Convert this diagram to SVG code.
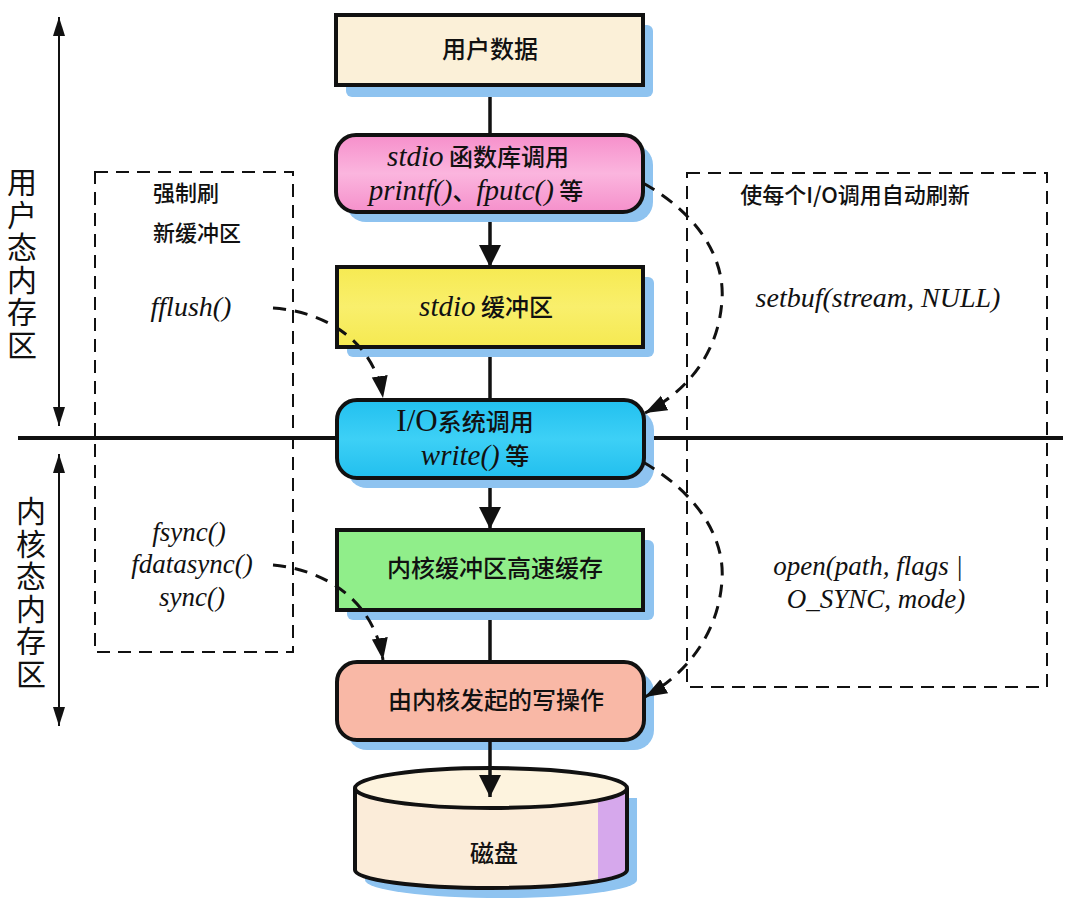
<svg xmlns="http://www.w3.org/2000/svg" width="1080" height="907" viewBox="0 0 1080 907">
<style>
.cjk{font-family:"Noto Sans CJK SC","Noto Sans",sans-serif;fill:#111}
.b{font-weight:500}
.it{font-family:"Liberation Serif","DejaVu Serif",serif;font-style:italic;fill:#111}
.rm{font-family:"Liberation Serif","DejaVu Serif",serif;fill:#111}
.vt{writing-mode:vertical-rl;letter-spacing:2.5px}
.box{stroke:#111;stroke-width:4}
.shadow{fill:#8ec3f0}
.dbox{fill:none;stroke:#111;stroke-width:2;stroke-dasharray:13 8}
.dcurve{fill:none;stroke:#111;stroke-width:3;stroke-dasharray:13 9}
.solid{fill:none;stroke:#111;stroke-width:3.5}
.thin{fill:none;stroke:#111;stroke-width:2}
</style>
<defs>
<marker id="ah" markerUnits="userSpaceOnUse" markerWidth="24" markerHeight="24" viewBox="0 0 24 24" refX="22" refY="12" orient="auto">
<path d="M0,1 L22,12 L0,23 Z" fill="#111"/>
</marker>
<marker id="ahc" markerUnits="userSpaceOnUse" markerWidth="24" markerHeight="18" viewBox="0 0 24 18" refX="22" refY="9" orient="auto">
<path d="M0,1 L22,9 L0,17 Z" fill="#111"/>
</marker>
<marker id="aht" markerUnits="userSpaceOnUse" markerWidth="20" markerHeight="14" viewBox="0 0 20 14" refX="19" refY="7" orient="auto-start-reverse">
<path d="M0,1 L19,7 L0,13 Z" fill="#111"/>
</marker>
<linearGradient id="gPink" x1="0" y1="0" x2="0" y2="1"><stop offset="0" stop-color="#f68fcb"/><stop offset="0.5" stop-color="#fbb5de"/><stop offset="1" stop-color="#f590cb"/></linearGradient>
<linearGradient id="gCyan" x1="0" y1="0" x2="0" y2="1"><stop offset="0" stop-color="#22c0ef"/><stop offset="0.5" stop-color="#3dd0f6"/><stop offset="1" stop-color="#22bfee"/></linearGradient>
<linearGradient id="gYel" x1="0" y1="0" x2="0" y2="1"><stop offset="0" stop-color="#f6ea52"/><stop offset="0.5" stop-color="#f9ef6c"/><stop offset="1" stop-color="#f5e951"/></linearGradient>
<clipPath id="diskClip"><path d="M355,788 L355,870 A136,18 0 0 0 627,870 L627,788 Z"/></clipPath>
</defs>
<rect width="1080" height="907" fill="#ffffff"/>

<g id="divider">
<line x1="18" y1="438" x2="1063" y2="438" stroke="#111" stroke-width="4"/>
</g>

<g id="user-space-label">
<line x1="59" y1="17" x2="59" y2="426" class="thin" marker-start="url(#aht)" marker-end="url(#aht)"/>
<text class="cjk vt" font-size="30" x="22" y="167">用户态内存区</text>
</g>
<g id="kernel-space-label">
<line x1="59" y1="454" x2="59" y2="726" class="thin" marker-start="url(#aht)" marker-end="url(#aht)"/>
<text class="cjk vt" font-size="30" x="31" y="496">内核态内存区</text>
</g>

<g id="force-flush-box">
<rect x="95" y="172" width="198" height="480" class="dbox"/>
<text class="cjk b" font-size="22" x="186" y="201" text-anchor="middle">强制刷</text>
<text class="cjk b" font-size="22" x="197" y="241" text-anchor="middle">新缓冲区</text>
<text class="it" font-size="28" x="191" y="316" text-anchor="middle">fflush()</text>
<text class="it" font-size="27" text-anchor="middle"><tspan x="189" y="541">fsync()</tspan><tspan x="192" y="573">fdatasync()</tspan><tspan x="192" y="606">sync()</tspan></text>
</g>

<g id="auto-flush-box">
<rect x="687" y="173" width="360" height="514" class="dbox"/>
<text class="cjk b" font-size="22" x="855" y="203" text-anchor="middle">使每个I/O调用自动刷新</text>
<text class="it" font-size="28" x="878" y="307" text-anchor="middle">setbuf(stream, NULL)</text>
<text class="it" font-size="27" text-anchor="middle"><tspan x="868" y="575">open(path, flags |</tspan><tspan x="876" y="608">O_SYNC, mode)</tspan></text>
</g>

<g id="connectors">
<line x1="490" y1="85" x2="490" y2="135" class="solid"/>
<line x1="490" y1="212" x2="490" y2="267" class="solid" marker-end="url(#ah)"/>
<line x1="490" y1="347" x2="490" y2="400" class="solid"/>
<line x1="490" y1="478" x2="490" y2="529" class="solid" marker-end="url(#ah)"/>
<line x1="490" y1="610" x2="490" y2="662" class="solid"/>
</g>

<g id="node-user-data">
<rect x="346" y="25" width="307" height="72" rx="6" class="shadow"/>
<rect x="336" y="15" width="307" height="70" fill="#fbf0d8" class="box"/>
<text class="cjk b" font-size="24" x="490" y="58" text-anchor="middle">用户数据</text>
</g>

<g id="node-stdio-call">
<rect x="346" y="145" width="307" height="77" rx="20" class="shadow"/>
<rect x="336" y="135" width="307" height="77" rx="20" fill="url(#gPink)" class="box"/>
<text text-anchor="middle"><tspan x="478" y="166" class="it" font-size="29">stdio</tspan><tspan class="cjk b" font-size="24"> 函数库调用</tspan></text>
<text text-anchor="middle"><tspan x="476" y="200" class="it" font-size="29">printf()</tspan><tspan class="cjk b" font-size="24">、</tspan><tspan class="it" font-size="29">fputc()</tspan><tspan class="cjk b" font-size="24"> 等</tspan></text>
</g>

<g id="node-stdio-buffer">
<rect x="347" y="277" width="307" height="80" rx="6" class="shadow"/>
<rect x="337" y="267" width="306" height="80" fill="url(#gYel)" class="box"/>
<text x="486" y="316" text-anchor="middle"><tspan class="it" font-size="29">stdio</tspan><tspan class="cjk b" font-size="24"> 缓冲区</tspan></text>
</g>

<g id="node-syscall">
<rect x="347" y="410" width="307" height="78" rx="20" class="shadow"/>
<rect x="337" y="400" width="307" height="78" rx="20" fill="url(#gCyan)" class="box"/>
<text text-anchor="middle"><tspan x="465" y="431" class="rm" font-size="31">I/O</tspan><tspan class="cjk b" font-size="24">系统调用</tspan></text>
<text text-anchor="middle"><tspan x="475" y="465" class="it" font-size="29">write()</tspan><tspan class="cjk b" font-size="24"> 等</tspan></text>
</g>

<g id="node-kernel-cache">
<rect x="347" y="540" width="307" height="80" rx="6" class="shadow"/>
<rect x="337" y="530" width="306" height="80" fill="#90ee8a" class="box"/>
<text class="cjk b" font-size="24" x="495" y="577" text-anchor="middle">内核缓冲区高速缓存</text>
</g>

<g id="node-kernel-write">
<rect x="347" y="672" width="307" height="78" rx="20" class="shadow"/>
<rect x="337" y="662" width="307" height="78" rx="20" fill="#f9b8a6" class="box"/>
<text class="cjk b" font-size="24" x="496" y="709" text-anchor="middle">由内核发起的写操作</text>
</g>

<g id="node-disk">
<path d="M365,798 L365,880 A136,18 0 0 0 637,880 L637,798 Z" class="shadow"/>
<path d="M355,788 L355,870 A136,18 0 0 0 627,870 L627,788 Z" fill="#fbecd9"/>
<rect x="598" y="780" width="30" height="110" fill="#d6a8ec" clip-path="url(#diskClip)"/>
<path d="M355,788 L355,870 A136,18 0 0 0 627,870 L627,788" fill="none" class="box"/>
<ellipse cx="491" cy="788" rx="136" ry="20" fill="#fdf3de" class="box"/>
<text class="cjk b" font-size="24" x="494" y="862" text-anchor="middle">磁盘</text>
</g>

<g id="connectors-overlay">
<line x1="490" y1="740" x2="490" y2="797" class="solid" marker-end="url(#ah)"/>
<path d="M273,308 C330,312 375,345 383,398" class="dcurve" marker-end="url(#ahc)"/>
<path d="M273,565 C330,570 375,605 383,660" class="dcurve" marker-end="url(#ahc)"/>
<path d="M643,183 C700,215 725,260 722,300 C719,350 690,390 645,413" class="dcurve" marker-end="url(#ahc)"/>
<path d="M643,462 C700,495 725,540 722,580 C719,630 690,672 645,697" class="dcurve" marker-end="url(#ahc)"/>
</g>
</svg>
